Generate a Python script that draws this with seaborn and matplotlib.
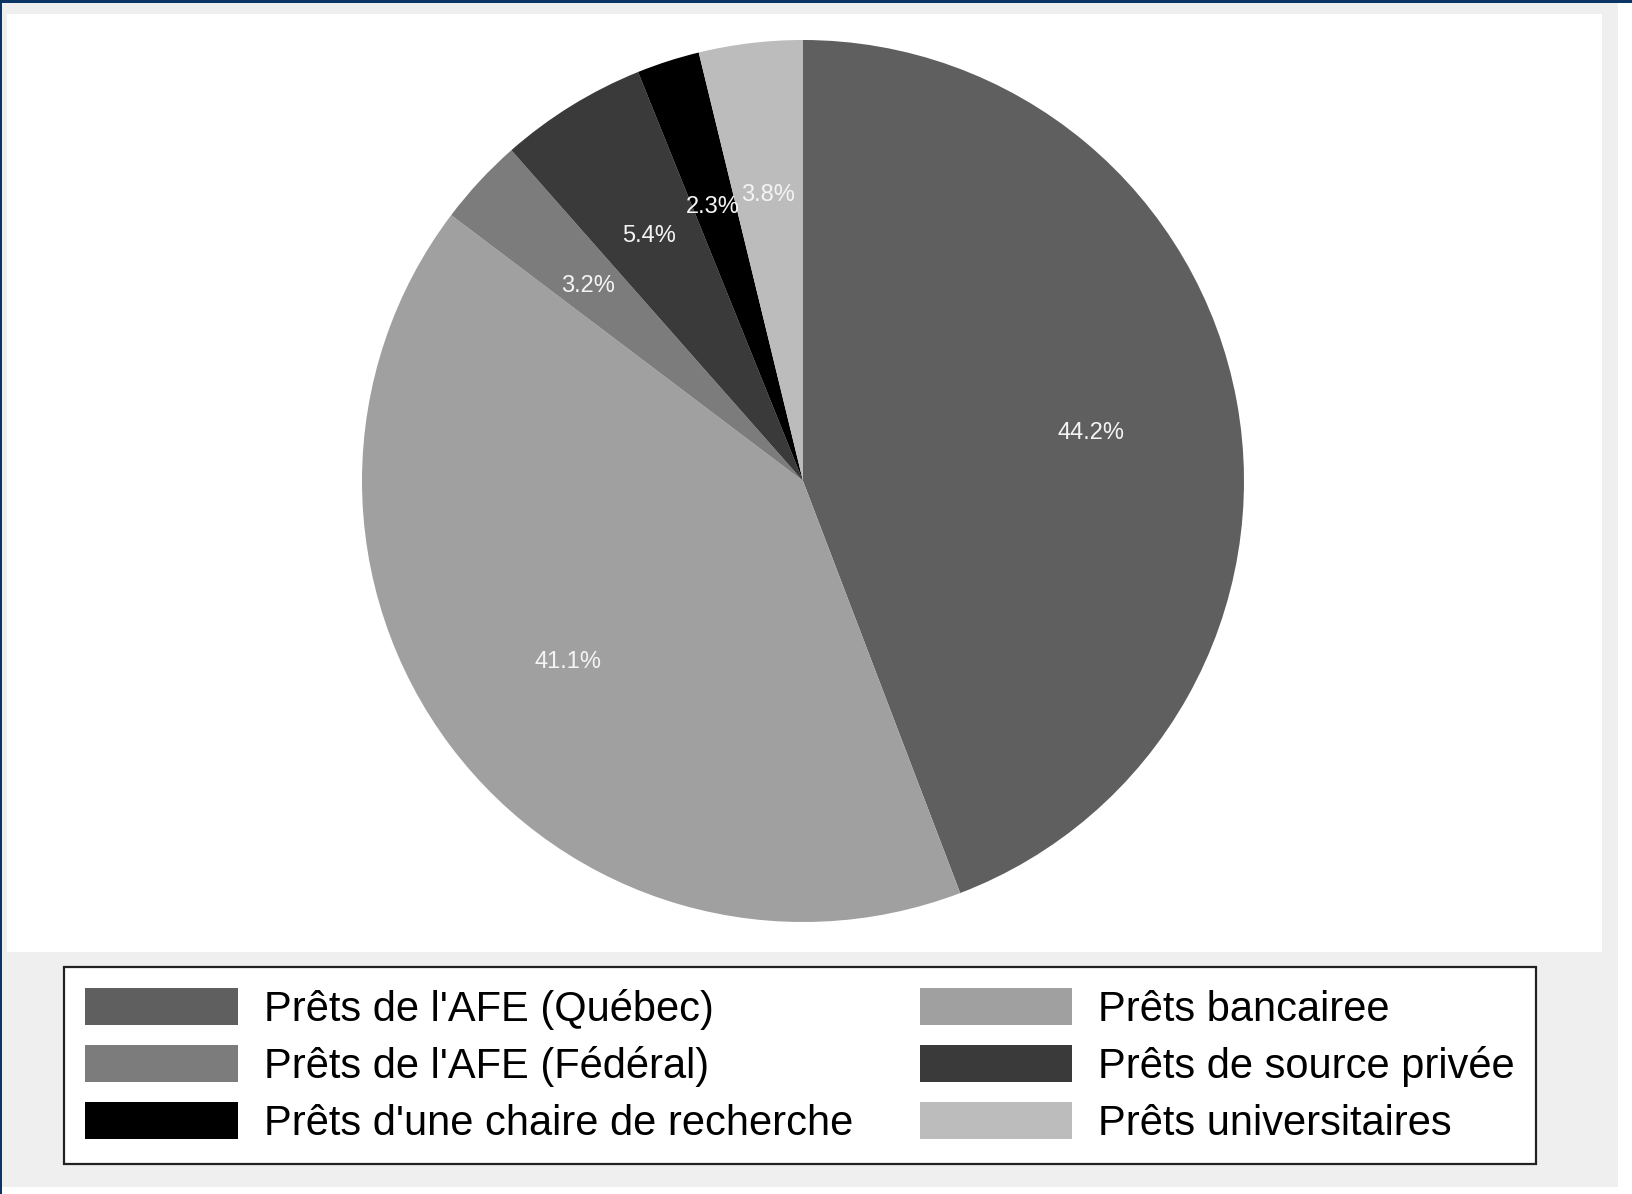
import matplotlib.pyplot as plt
import matplotlib.patches as mpatches
import seaborn as sns

## données du graphique

categories = ["Prêts de l'AFE (Québec)", "Prêts bancairee", "Prêts de l'AFE (Fédéral)",
              "Prêts de source privée", "Prêts d'une chaire de recherche", "Prêts universitaires"]
parts = [44.2, 41.1, 3.2, 5.4, 2.3, 3.8]
couleurs = ["#5f5f5f", "#a0a0a0", "#7c7c7c", "#3a3a3a", "#000000", "#bcbcbc"]

# ordre de la légende (lignes : Québec/bancaire, Fédéral/privée, chaire/universitaires)
ordre_legende = [0, 2, 4, 1, 3, 5]

sns.set_theme(style="white")
plt.rcParams['font.family'] = ['Liberation Sans', 'DejaVu Sans']
plt.rcParams['text.color'] = 'black'

W, H = 1633, 1194
fig = plt.figure(figsize=(W / 100, H / 100), dpi=100, facecolor="#efefef")

def rect_px(x0, y0, x1, y1, couleur):
    # rectangle en pixels (origine en haut à gauche)
    fig.patches.append(mpatches.Rectangle((x0 / W, 1 - y1 / H), (x1 - x0) / W, (y1 - y0) / H,
                                          transform=fig.transFigure, facecolor=couleur,
                                          edgecolor="none", zorder=-5))

# cadre de la capture
rect_px(7, 14, 1602, 952, "white")
rect_px(1618, 0, W, H, "white")
rect_px(0, 1187, W, H, "white")
rect_px(0, 0, W, 3, "#0a3564")
rect_px(0, 0, 2, H, "#0a3564")

# camembert
cx, cy, r = 803, 481, 441
ax = fig.add_axes([(cx - r) / W, (H - cy - r) / H, 2 * r / W, 2 * r / H])
ax.set_zorder(2)
ax.set_facecolor("none")
wedges, textes, pcts = ax.pie(parts, colors=couleurs, startangle=90, counterclock=False,
                              autopct="%1.1f%%", pctdistance=0.665, radius=1,
                              textprops=dict(color="#f4f4f4", fontsize=17),
                              wedgeprops=dict(linewidth=0))
# les étiquettes sont un peu plus bas dans l'original
for t in pcts:
    x, y = t.get_position()
    t.set_position((x, y - 0.011))
ax.set_xlim(-1, 1)
ax.set_ylim(-1, 1)
ax.set_aspect("auto")
ax.axis("off")

poignees = [mpatches.Patch(facecolor=couleurs[i], edgecolor="none") for i in ordre_legende]
noms = [categories[i] for i in ordre_legende]
leg = fig.legend(poignees, noms, loc="upper left", bbox_to_anchor=(64 / W, 1 - 967 / H),
                 borderaxespad=0, ncol=2, fontsize=30, frameon=True, fancybox=False,
                 framealpha=1, edgecolor="#222222", handlelength=3.67, handleheight=1.0,
                 handletextpad=0.62, borderpad=0.5, labelspacing=0.36, columnspacing=1.6)
leg.get_frame().set_linewidth(1.6)
leg.get_frame().set_facecolor("white")
leg.set_zorder(3)
for t in leg.get_texts():
    t.set_color("black")

fig.savefig("out.png", dpi=100, facecolor=fig.get_facecolor())
